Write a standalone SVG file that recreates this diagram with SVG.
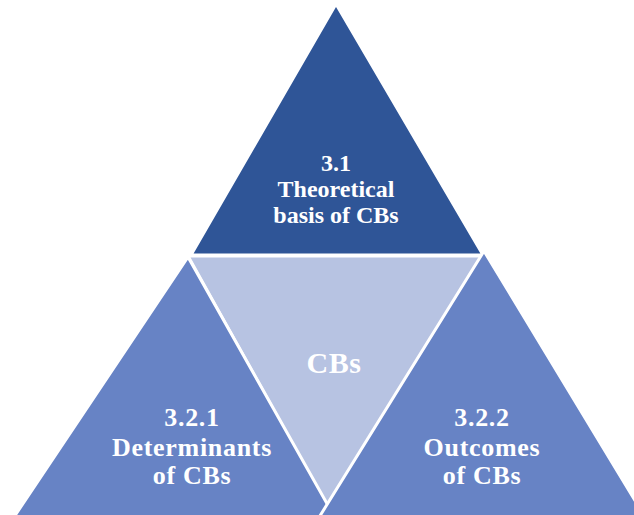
<svg xmlns="http://www.w3.org/2000/svg" width="634" height="515" viewBox="0 0 634 515">
<style>
.tri{stroke:#ffffff;stroke-width:3;stroke-linejoin:miter}
.lbl{font-family:"Liberation Serif","Times New Roman",serif;font-weight:bold;fill:#ffffff;text-anchor:middle}
.t1{font-size:24px}
.t2{font-size:26px;letter-spacing:0.7px}
.t3{font-size:30px;letter-spacing:0.5px}
</style>
<rect width="634" height="515" fill="#ffffff"/>
<g id="node-top">
<polygon class="tri" points="336,4 191,255 483,255" fill="#2F5597"/>
<text class="lbl t1" x="336" y="171">3.1</text>
<text class="lbl t1" x="336" y="197">Theoretical</text>
<text class="lbl t1" x="336" y="223">basis of CBs</text>
</g>
<g id="node-center">
<polygon class="tri" points="188,256 485,256 327,506" fill="#B7C3E2"/>
<text class="lbl t3" x="334" y="373">CBs</text>
</g>
<g id="node-left">
<polygon class="tri" points="188,257 4,532 343,532" fill="#6783C5"/>
<text class="lbl t2" x="192" y="426">3.2.1</text>
<text class="lbl t2" x="192" y="456">Determinants</text>
<text class="lbl t2" x="192" y="484">of CBs</text>
</g>
<g id="node-right">
<polygon class="tri" points="484,251 310,532 654,532" fill="#6783C5"/>
<text class="lbl t2" x="482" y="426">3.2.2</text>
<text class="lbl t2" x="482" y="456">Outcomes</text>
<text class="lbl t2" x="482" y="484">of CBs</text>
</g>
<g id="connectors"></g>
</svg>
